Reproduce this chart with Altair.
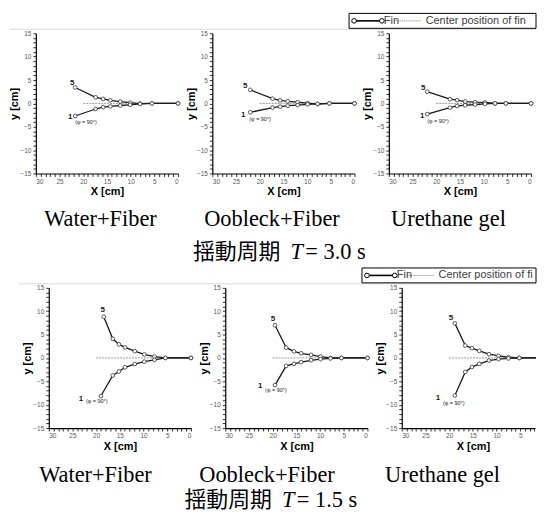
import altair as alt
import pandas as pd

materials = ["Water+Fiber", "Oobleck+Fiber", "Urethane gel"]
row_titles = [["揺動周期", "T", "= 3.0 s"], ["揺動周期", "T", "= 1.5 s"]]
fin_labels = ["5", "1"]
angle_note = "(φ = 90°)"
legend_texts = ["Fin", "Center position of fin"]

x_ticks = list(range(0, 31))
y_ticks = list(range(-15, 16))
center_x = [20, 0]

# ---- swing period T = 3.0 s ----
t30_water_x5 = [21.7, 17.4, 15.8, 14.3, 12.2, 10.1, 8.0, 5.5, 0.0]
t30_water_y5 = [3.4, 1.3, 0.95, 0.65, 0.4, 0.15, -0.05, 0.0, 0.0]
t30_water_x1 = [21.7, 17.4, 15.8, 14.3, 12.2, 10.1, 8.0, 5.5, 0.0]
t30_water_y1 = [-2.7, -1.2, -0.8, -0.65, -0.45, -0.3, -0.12, 0.0, 0.0]

t30_oob_x5 = [22.0, 17.3, 15.7, 14.1, 12.0, 9.9, 7.8, 5.3, 0.0]
t30_oob_y5 = [2.9, 1.0, 0.65, 0.45, 0.25, 0.05, -0.15, 0.0, 0.0]
t30_oob_x1 = [22.0, 17.3, 15.7, 14.1, 12.0, 9.9, 7.8, 5.3, 0.0]
t30_oob_y1 = [-1.9, -0.9, -0.7, -0.5, -0.35, -0.2, -0.1, 0.0, 0.0]

t30_ure_x5 = [21.9, 17.1, 15.6, 13.9, 11.8, 9.7, 7.6, 5.3, 0.0]
t30_ure_y5 = [2.5, 0.9, 0.7, 0.4, 0.25, 0.2, 0.0, 0.0, 0.0]
t30_ure_x1 = [21.9, 17.1, 15.6, 13.9, 11.8, 9.7, 7.6, 5.3, 0.0]
t30_ure_y1 = [-2.3, -0.9, -0.55, -0.4, -0.25, -0.1, 0.0, 0.0, 0.0]

# ---- swing period T = 1.5 s ----
t15_water_x5 = [18.4, 16.5, 15.2, 13.9, 11.85, 9.85, 7.7, 5.4, 0.0]
t15_water_y5 = [8.8, 4.1, 2.9, 2.25, 1.45, 0.75, 0.28, 0.0, 0.0]
t15_water_x1 = [19.0, 16.5, 15.2, 13.9, 11.85, 9.85, 7.7, 5.4, 0.0]
t15_water_y1 = [-8.15, -3.75, -2.9, -2.0, -1.3, -0.8, -0.42, 0.0, 0.0]

t15_oob_x5 = [19.5, 17.15, 15.5, 14.0, 11.9, 9.9, 7.8, 5.5, 0.0]
t15_oob_y5 = [7.0, 2.2, 1.4, 1.0, 0.65, 0.3, 0.0, 0.0, 0.0]
t15_oob_x1 = [19.5, 17.15, 15.5, 14.0, 11.9, 9.9, 7.8, 5.5, 0.0]
t15_oob_y1 = [-5.8, -1.7, -1.25, -0.9, -0.5, -0.25, -0.1, 0.0, 0.0]

t15_ure_x5 = [18.8, 16.6, 15.2, 13.65, 11.6, 9.6, 7.5, 5.2, 0.0]
t15_ure_y5 = [7.4, 2.65, 2.1, 1.5, 0.8, 0.45, 0.15, 0.0, 0.0]
t15_ure_x1 = [18.8, 16.6, 15.2, 13.65, 11.6, 9.6, 7.5, 5.2, 0.0]
t15_ure_y1 = [-8.05, -3.0, -1.95, -1.25, -0.55, -0.25, -0.1, 0.0, 0.0]

# label offsets (px): dx5, dy5, dx1, dy1, dx_note, dy_note
offs_top = [(-3, -5, -5, 1, 0, 6), (-5, -4, -7, 3, -1, 7), (-4, -4, -5, 2, 0, 7)]
offs_bot = [(-1, -7, -20, 3, -15, 5), (-2, -6, -15, 1, -10, 5), (-4, -5, -17, 2, -12, 7)]

PW = 143          # plot width for the full 0..30 range
PH = 141
SHIFT = 13        # bottom row plots start 13 px right of the top row plots
CELL = PW + SHIFT # width of the cells of columns 1-2
LAST = 148        # width of the cells of column 3 (page edge)
CUT_W = LAST - SHIFT - 1   # visible plot width of the bottom-right panel
SANS = "Liberation Sans"
SERIF = "Liberation Serif"

ys = alt.Scale(domain=[-15, 15], nice=False, zero=False)

common_axis = dict(
    labelExpr="datum.value % 5 === 0 ? datum.label : ''",
    labelFont=SANS, labelFontSize=6.5, labelColor="#595959",
    titleFont=SANS, titleFontSize=11, titleFontWeight="bold", titleColor="black",
    tickSize=3, tickColor="black", tickWidth=0.8,
    domainColor="black", domainWidth=1.2, grid=False, labelOverlap=False,
)

ONE = pd.DataFrame({"v": [0]})


def text_at(s, x, y, font=SERIF, size=22.5, style="normal", align="center", color="black", limit=0):
    kw = dict(font=font, fontSize=size, fontStyle=style, color=color, align=align, baseline="middle")
    if limit:
        kw.update(limit=limit, ellipsis="\u200b")
    return alt.Chart(ONE).mark_text(**kw).encode(x=alt.value(x), y=alt.value(y), text=alt.value(s))


def make_panel(x5, y5, x1, y1, offs, material, mat_x, mat_y, title=None, legend=False,
               line_l=-34.5, line_r=PW, shift=0, width=PW, cell=CELL):
    n5, n1 = len(x5), len(x1)
    df = pd.DataFrame({
        "X": x5 + x1,
        "Y": y5 + y1,
        "fin": [fin_labels[0]] * n5 + [fin_labels[1]] * n1,
        "k": list(range(n5)) + list(range(n1)),
    })
    xmin = 30 - 30 * width / PW
    ticks = [t for t in x_ticks if t >= xmin - 1e-9]
    xs = alt.Scale(domain=[xmin, 30], reverse=True, nice=False, zero=False,
                   range=[shift, shift + width])
    xax = alt.Axis(values=ticks, title="X [cm]", labelPadding=2, titlePadding=1,
                   titleX=shift + PW / 2, **common_axis)
    yax = alt.Axis(values=y_ticks, title="y [cm]", labelPadding=2, titlePadding=0,
                   offset=-shift, **common_axis)
    X = alt.X("X:Q", scale=xs, axis=xax)
    Y = alt.Y("Y:Q", scale=ys, axis=yax)
    clip = width < PW

    frame_line = alt.Chart(ONE).mark_rule(color="#d9d9d9", strokeWidth=1).encode(
        x=alt.value(line_l + shift), x2=alt.value(line_r + shift), y=alt.value(-4))
    center = alt.Chart(pd.DataFrame({"X": [center_x[0]], "X2": [center_x[1]], "Y": [0]})).mark_rule(
        color="#9a9a9a", strokeDash=[2, 1], strokeWidth=1, clip=clip).encode(x=X, x2="X2:Q", y=Y)
    lines = alt.Chart(df).mark_line(color="#1a1a1a", strokeWidth=1.3, clip=clip).encode(
        x=X, y=Y, detail="fin:N", order="k:Q")
    pts = alt.Chart(df).mark_circle(size=14, fill="white", stroke="#333333", strokeWidth=0.8,
                                    opacity=1, clip=clip).encode(x=X, y=Y)
    d5 = df[(df.fin == fin_labels[0]) & (df.k == 0)]
    d1 = df[(df.fin == fin_labels[1]) & (df.k == 0)]
    lab5 = alt.Chart(d5).mark_text(font=SANS, fontSize=8, fontWeight="bold", color="#1a1a1a",
                                   dx=offs[0], dy=offs[1]).encode(x=X, y=Y, text="fin:N")
    lab1 = alt.Chart(d1).mark_text(font=SANS, fontSize=8, fontWeight="bold", color="#1a1a1a",
                                   dx=offs[2], dy=offs[3]).encode(x=X, y=Y, text="fin:N")
    note = alt.Chart(d1).mark_text(font=SANS, fontSize=5.5, color="#1a1a1a", align="left",
                                   dx=offs[4], dy=offs[5]).encode(x=X, y=Y, text=alt.value(angle_note))
    layers = [frame_line, center, lines, pts, lab5, lab1, note,
              text_at(material, mat_x + shift, mat_y)]
    if title is not None:
        parts, tx, ty = title
        tx += shift
        layers += [
            text_at(parts[0], tx, ty, font="Noto Sans CJK JP", size=22, align="left"),
            text_at(parts[1], tx + 98, ty, style="italic", align="left"),
            text_at(parts[2], tx + 113, ty, align="left"),
        ]
    if legend:
        yl = -12.5
        right = cell - shift
        s = shift
        box = alt.Chart(ONE).mark_rect(fill="white", stroke="black", strokeWidth=1).encode(
            x=alt.value(s - 40), x2=alt.value(s + right), y=alt.value(-20), y2=alt.value(-5))
        lg_line = alt.Chart(ONE).mark_rule(color="black", strokeWidth=1.6).encode(
            x=alt.value(s - 35), x2=alt.value(s - 7), y=alt.value(yl))
        lg_c1 = alt.Chart(ONE).mark_circle(size=22, fill="white", stroke="black", strokeWidth=1, opacity=1).encode(
            x=alt.value(s - 35), y=alt.value(yl))
        lg_c2 = alt.Chart(ONE).mark_circle(size=22, fill="white", stroke="black", strokeWidth=1, opacity=1).encode(
            x=alt.value(s - 7), y=alt.value(yl))
        lg_dash = alt.Chart(ONE).mark_rule(color="#808080", strokeDash=[1, 1], strokeWidth=1).encode(
            x=alt.value(s + 5), x2=alt.value(s + 33), y=alt.value(yl))
        layers += [box, lg_line, lg_c1, lg_c2, lg_dash,
                   text_at(legend_texts[0], s - 5, yl, font=SANS, size=11, align="left", color="#404040"),
                   text_at(legend_texts[1], s + 37, yl, font=SANS, size=11, align="left", color="#404040",
                           limit=right - 38)]
    return alt.layer(*layers).properties(width=cell, height=PH)


# top row: plot lefts at page 35, 212.5, 390 ; top 33
p1 = make_panel(t30_water_x5, t30_water_y5, t30_water_x1, t30_water_y1, offs_top[0],
                materials[0], 65, 187, line_l=-26)
p2 = make_panel(t30_oob_x5, t30_oob_y5, t30_oob_x1, t30_oob_y1, offs_top[1],
                materials[1], 60, 187, title=(row_titles[0], -19.5, 220))
p3 = make_panel(t30_ure_x5, t30_ure_y5, t30_ure_x1, t30_ure_y1, offs_top[2],
                materials[2], 60, 187, legend=True, line_r=LAST, cell=LAST)

# bottom row: plot lefts at page 48, 226, 404 ; top 289
p4 = make_panel(t15_water_x5, t15_water_y5, t15_water_x1, t15_water_y1, offs_bot[0],
                materials[0], 47, 188, line_l=-30, shift=SHIFT)
p5 = make_panel(t15_oob_x5, t15_oob_y5, t15_oob_x1, t15_oob_y1, offs_bot[1],
                materials[1], 42, 188, title=(row_titles[1], -41, 213), shift=SHIFT)
p6 = make_panel(t15_ure_x5, t15_ure_y5, t15_ure_x1, t15_ure_y1, offs_bot[2],
                materials[2], 41, 188, legend=True, line_r=LAST - SHIFT, shift=SHIFT,
                width=CUT_W, cell=LAST)

chart = alt.concat(p1, p2, p3, p4, p5, p6, columns=3,
                   spacing={"row": 256 - PH, "column": 177.5 - CELL},
                   bounds="flush", align="each").properties(
    padding={"left": 0, "top": 3, "right": 0, "bottom": 0},
    background="white",
).configure_view(stroke=None)

chart.save("out.html", embed_options={"renderer": "svg", "actions": False})
